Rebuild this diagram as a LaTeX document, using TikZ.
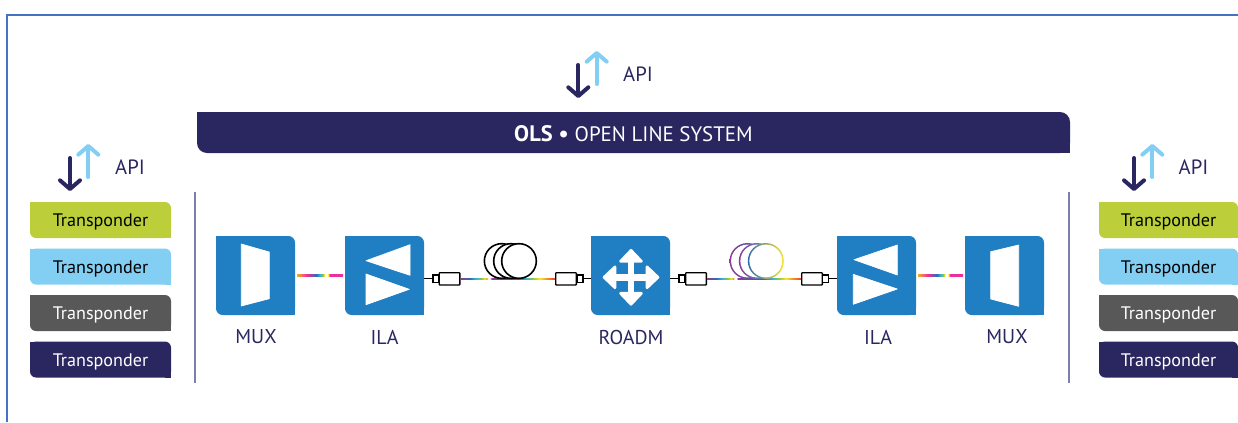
\documentclass[tikz,border=0pt]{standalone}
\usepackage{fontspec}
\setmainfont{PT Sans}
\usetikzlibrary{arrows.meta}
\definecolor{navy}{HTML}{2A2760}
\definecolor{boxblue}{HTML}{207EC3}
\definecolor{skyblue}{HTML}{82CFF3}
\definecolor{limeg}{HTML}{BCCF3A}
\definecolor{darkg}{HTML}{585858}
\definecolor{frameb}{HTML}{4472C4}
\definecolor{sepline}{HTML}{7F7EAB}
\definecolor{fpurple}{HTML}{8E3A96}
\definecolor{fblue}{HTML}{2E6DB4}
\definecolor{fcyan}{HTML}{35B5D8}
\definecolor{fgreen}{HTML}{8CC63F}
\definecolor{fyellow}{HTML}{FBE426}
\definecolor{forange}{HTML}{F58A1F}
\definecolor{fred}{HTML}{E8452C}
\definecolor{fpink}{HTML}{EC2F9C}
% rainbow pieces of the fibre
\pgfdeclarehorizontalshading{fibremux}{100bp}{color(0bp)=(forange); color(25bp)=(forange!60!fyellow); color(36bp)=(fpink); color(46bp)=(fblue); color(50bp)=(fcyan); color(53bp)=(fgreen); color(54.5bp)=(fyellow); color(55.5bp)=(white); color(57.5bp)=(white); color(59bp)=(fyellow); color(60.5bp)=(fpink); color(100bp)=(fpink)}
\pgfdeclarehorizontalshading{fibrespan}{100bp}{color(0bp)=(fpurple); color(25bp)=(fpurple); color(30bp)=(fblue); color(33bp)=(fcyan); color(36bp)=(fgreen); color(38bp)=(fyellow); color(39bp)=(forange); color(39.5bp)=(white); color(40.5bp)=(white); color(41.5bp)=(fpurple); color(52bp)=(fpurple); color(55bp)=(fblue); color(60bp)=(fcyan); color(63bp)=(fgreen); color(67bp)=(fyellow); color(71bp)=(forange); color(75bp)=(fred); color(100bp)=(fred)}
\tikzset{
    cutbox/.style 2 args = {rectangle, inner sep=0pt, outer sep=0pt, path picture={
        \fill[#1, rounded corners=#2] (path picture bounding box.south west) rectangle (path picture bounding box.north east);
        \fill[#1] (path picture bounding box.north west) rectangle ([xshift=#2, yshift=-#2]path picture bounding box.north west);
        \fill[#1] (path picture bounding box.south east) rectangle ([xshift=-#2, yshift=#2]path picture bounding box.south east);}},
    trans/.style 2 args = {cutbox={#1}{4.5pt}, minimum width=105.75pt, minimum height=27pt, text=#2, text height=10pt, text depth=0pt, font=\fontsize{13.6}{13.6}\selectfont},
    transr/.style 2 args = {trans={#1}{#2}, minimum width=104.25pt},
    ols/.style = {cutbox={navy}{7.5pt}, minimum width=654.75pt, minimum height=30.75pt, text=white, text height=13.8pt, text depth=0pt, font=\fontsize{16.8}{16.8}\selectfont},
    unit/.style = {cutbox={boxblue}{5pt}, minimum width=59.25pt, minimum height=59.25pt},
    lbl/.style = {text=navy, font=\fontsize{15}{15}\selectfont, inner sep=0pt},
    apilbl/.style = {text=navy, font=\fontsize{15.5}{15.5}\selectfont, inner sep=0pt},
    apidown/.style = {draw=navy, line width=3pt, line cap=round, -{Straight Barb[length=6.5pt,width=15pt,round]}},
    apiup/.style = {draw=skyblue, line width=3pt, line cap=round, -{Straight Barb[length=6.5pt,width=15pt,round]}},
    sep/.style = {draw=sepline, line width=1.1pt},
    inner/.style = {fill=white, draw=white, line width=.5pt, line join=round},
    roadmarr/.style = {fill=white, draw=white, line width=2pt, line join=round},
    plug/.style = {rectangle, draw=black, fill=white, line width=1pt, rounded corners=.5pt, inner sep=0pt, minimum width=15.5pt, minimum height=9.2pt},
    plugs/.style = {rectangle, draw=black, fill=white, line width=1pt, inner sep=0pt, minimum width=4.4pt, minimum height=5.6pt},
    lead/.style = {draw=black, line width=1pt},
    coil/.style = {circle, draw=black, fill=white, line width=1.2pt, inner sep=0pt, minimum size=26pt},
    coilc/.style 2 args = {circle, inner sep=0pt, minimum size=27pt, left color=#1, right color=#2},
    coild/.style n args = {3}{circle, inner sep=0pt, minimum size=27pt, left color=#1, middle color=#2, right color=#3},
    coilw/.style = {circle, fill=white, inner sep=0pt, minimum size=24.6pt}
}
\begin{document}
\begin{tikzpicture}[x=0.75pt,y=-0.75pt]
\useasboundingbox (0,0) rectangle (1238,422);

\coordinate (f1) at (7,422);
\coordinate (f2) at (7,15);
\coordinate (f3) at (1238,15);
\draw[draw=frameb, line width=1.2pt] (f1) -- (f2) -- (f3);

% side stacks
\node[trans={limeg}{black}] at (100.5,220) (tl1) {Transponder};
\node[trans={skyblue}{black}] at (100.5,266.5) (tl2) {Transponder};
\node[trans={darkg}{white}] at (100.5,313) (tl3) {Transponder};
\node[trans={navy}{white}] at (100.5,359.5) (tl4) {Transponder};
\node[transr={limeg}{black}] at (1168.5,220) (tr1) {Transponder};
\node[transr={skyblue}{black}] at (1168.5,266.5) (tr2) {Transponder};
\node[transr={darkg}{white}] at (1168.5,313) (tr3) {Transponder};
\node[transr={navy}{white}] at (1168.5,359.5) (tr4) {Transponder};

\node[ols] at (633.5,132.5) (olsbar) {\textbf{OLS} \textbf{•} \fontsize{15.7}{15.7}\selectfont OPEN LINE SYSTEM};

% api arrows
\foreach \n/\xd/\xu/\yd/\lx/\ly in {l/70/88.3/158/130/167, c/578.3/596.7/65/638/74, r/1134/1152.3/158/1193.5/167} {
    \coordinate (d\n a) at (\xd,\yd);
    \coordinate (d\n b) at (\xd,\yd+33);
    \coordinate (u\n a) at (\xu,\yd+19);
    \coordinate (u\n b) at (\xu,\yd-14);
    \draw[apidown] (d\n a) -- (d\n b);
    \draw[apiup] (u\n a) -- (u\n b);
    \node[apilbl] at (\lx,\ly) (api\n) {API};
}

\coordinate (s1a) at (195,192);
\coordinate (s1b) at (195,383);
\coordinate (s2a) at (1069,192);
\coordinate (s2b) at (1069,383);
\draw[sep] (s1a) -- (s1b);
\draw[sep] (s2a) -- (s2b);

% line units
\node[unit] at (255.5,275.5) (mux1) {};
\node[unit] at (384.5,275.5) (ila1) {};
\node[unit] at (630.5,275.5) (roadm) {};
\node[unit] at (876.5,275.5) (ila2) {};
\node[unit] at (1004.5,275.5) (mux2) {};

\fill[inner] (241.3,244) -- (269.3,252) -- (269.3,298.7) -- (241.3,306) -- cycle;
\fill[inner] (366,260.7) -- (410,244.7) -- (410,275.3) -- cycle;
\fill[inner] (366,274) -- (409.3,289.3) -- (366,304.7) -- cycle;
\fill[inner] (854,259.7) -- (897.3,245) -- (897.3,275) -- cycle;
\fill[inner] (853.3,274.3) -- (897.3,289) -- (853.3,304.3) -- cycle;
\fill[inner] (990.7,251.7) -- (1018.7,245) -- (1018.7,306.3) -- (990.7,299) -- cycle;

\foreach \r in {0,90,180,270} {
    \begin{scope}[shift={(631,277.3)},rotate=\r]
    \draw[draw=white, line width=5pt] (0,0) -- (18,0);
    \filldraw[roadmarr] (16,-10.5) -- (27,0) -- (16,10.5) -- cycle;
    \end{scope}
}

\node[lbl] at (256,337) (lmux1) {MUX};
\node[lbl] at (384.5,337) (lila1) {ILA};
\node[lbl] at (631,337) (lroadm) {ROADM};
\node[lbl] at (878,337) (lila2) {ILA};
\node[lbl] at (1007,337) (lmux2) {MUX};

% fibre and plugs
\node[plugs] at (436,278.8) (ps1) {};
\node[plug] at (449.5,278.8) (p1) {};
\node[plug] at (566,278.8) (p2) {};
\node[plugs] at (580,278.8) (ps2) {};
\node[plugs] at (682,278.8) (ps3) {};
\node[plug] at (696,278.8) (p3) {};
\node[plug] at (812,278.8) (p4) {};
\node[plugs] at (825.5,278.8) (ps4) {};

\shade[shading=fibremux] ([xshift=1.5pt,yshift=.55pt]mux1.east) rectangle ([xshift=-1.5pt,yshift=-.55pt]ila1.west);
\shade[shading=fibremux] ([xshift=1.5pt,yshift=.55pt]ila2.east) rectangle ([xshift=-1.5pt,yshift=-.55pt]mux2.west);
\shade[shading=fibrespan] ([yshift=.6pt]p1.east) rectangle ([yshift=-.6pt]p2.west);
\shade[shading=fibrespan] ([yshift=.6pt]p3.east) rectangle ([yshift=-.6pt]p4.west);

\draw[lead] (ila1.east |- ps1) -- (ps1.west);
\draw[lead] (ps2.east) -- (roadm.west |- ps2);
\draw[lead] (roadm.east |- ps3) -- (ps3.west);
\draw[lead] (ps4.east) -- (ila2.west |- ps4);

% fibre coils
\node[coil] at (501.7,261) (c1) {};
\node[coil] at (511,261) (c2) {};
\node[coil] at (519,261) (c3) {};

\node[coilc={fpurple}{fblue}] at (747.5,261) (r1) {};
\node[coilw] at (747.5,261) (r1w) {};
\node[coilc={fpurple}{fcyan}] at (756.8,261) (r2) {};
\node[coilw] at (756.8,261) (r2w) {};
\node[coild={fblue}{fgreen}{fyellow}] at (765.8,261) (r3) {};
\node[coilw] at (765.8,261) (r3w) {};
\end{tikzpicture}
\end{document}
